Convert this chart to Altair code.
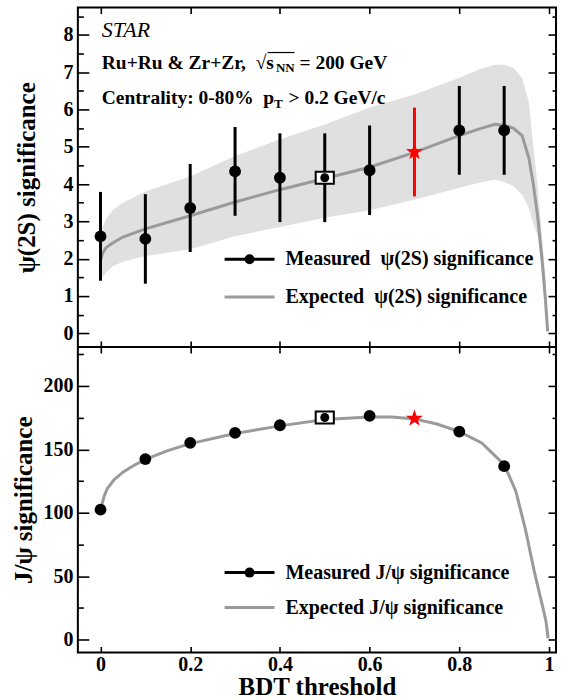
import altair as alt
import pandas as pd

FONT = "Liberation Serif"

# ---------------- data ----------------
bdt = [0.0, 0.1, 0.2, 0.3, 0.4, 0.5, 0.6, 0.7, 0.8, 0.9]
marker = ["circle", "circle", "circle", "circle", "circle", "box", "circle", "star", "circle", "circle"]
psi_meas = [2.60, 2.53, 3.36, 4.34, 4.17, 4.17, 4.37, 4.86, 5.44, 5.44]
psi_err = [1.19, 1.20, 1.18, 1.19, 1.19, 1.19, 1.20, 1.19, 1.19, 1.19]
jpsi_meas = [102.4, 142.3, 155.1, 163.0, 169.0, 175.1, 176.4, 174.3, 164.0, 136.7]

psi_exp_x = [0.001, 0.005, 0.012, 0.027, 0.05, 0.1, 0.2, 0.3, 0.4, 0.5, 0.6, 0.7, 0.8,
             0.85, 0.88, 0.9, 0.92, 0.94, 0.955, 0.965, 0.975, 0.985, 0.992, 0.997]
psi_exp = [1.98, 2.15, 2.29, 2.42, 2.58, 2.80, 3.15, 3.52, 3.85, 4.15, 4.45, 4.85, 5.30,
           5.50, 5.60, 5.58, 5.50, 5.30, 4.70, 4.00, 3.10, 1.90, 0.90, 0.05]
psi_band_hi = [2.60, 2.85, 3.05, 3.30, 3.50, 3.80, 4.20, 4.75, 5.20, 5.60, 6.05, 6.40, 6.85,
               7.10, 7.20, 7.20, 7.12, 6.85, 6.20, 5.00, 3.90, 2.50, 1.50, 0.40]
psi_band_lo = [1.44, 1.52, 1.62, 1.80, 1.92, 2.07, 2.25, 2.60, 2.85, 3.10, 3.30, 3.58, 3.90,
               4.05, 4.12, 4.05, 3.95, 3.72, 3.36, 2.95, 2.60, 1.60, 0.90, 0.20]

jpsi_exp_x = [0.002, 0.008, 0.015, 0.03, 0.05, 0.075, 0.1, 0.15, 0.2, 0.3, 0.4, 0.5, 0.6, 0.65,
              0.7, 0.75, 0.8, 0.85, 0.9, 0.926, 0.948, 0.967, 0.981, 0.993, 0.998]
jpsi_exp = [105, 113, 119, 126, 132, 137.5, 142, 149, 154.5, 162.5, 168.5, 173.5, 175.5, 175.5,
            174, 170, 164, 155, 138, 117, 86, 54, 33, 15, 1]

x_major = [0, 0.2, 0.4, 0.6, 0.8, 1.0]
psi_major = [0, 1, 2, 3, 4, 5, 6, 7, 8]
psi_minor = [0.5, 1.5, 2.5, 3.5, 4.5, 5.5, 6.5, 7.5, 8.5]
jpsi_major = [0, 50, 100, 150, 200]
jpsi_minor = [25, 75, 125, 175, 225]

# ---------------- tables ----------------
psi_df = pd.DataFrame({"x": bdt, "y": psi_meas, "err": psi_err, "marker": marker})
psi_df["lo"] = psi_df["y"] - psi_df["err"]
psi_df["hi"] = psi_df["y"] + psi_df["err"]
jpsi_df = pd.DataFrame({"x": bdt, "y": jpsi_meas, "marker": marker})
psi_exp_df = pd.DataFrame({"x": psi_exp_x, "y": psi_exp, "lo": psi_band_lo, "hi": psi_band_hi})
jpsi_exp_df = pd.DataFrame({"x": jpsi_exp_x, "y": jpsi_exp})
one = pd.DataFrame({"a": [0]})

W = 479
H_TOP = 340
H_BOT = 306
H = H_TOP + H_BOT
XS = alt.Scale(domain=[-0.0505, 1.0156], nice=False, zero=False)
YS_TOP = alt.Scale(domain=[-0.367, 8.73], range=[H_TOP, 0], nice=False, zero=False)
YS_BOT = alt.Scale(domain=[-10.2, 230.7], range=[H, H_TOP], nice=False, zero=False)

BOX = "M-1,-0.667L1,-0.667L1,0.667L-1,0.667Z"
STAR = ("M0,-1L0.235,-0.324L0.951,-0.309L0.38,0.124L0.588,0.809L0,0.4"
        "L-0.588,0.809L-0.38,0.124L-0.951,-0.309L-0.235,-0.324Z")


def X(f):
    return alt.X(f, type="quantitative", scale=XS, axis=None)


def YT(f):
    return alt.Y(f, type="quantitative", scale=YS_TOP, axis=None)


def YB(f):
    return alt.Y(f, type="quantitative", scale=YS_BOT, axis=None)


def tick_axis(values, channel, scale, orient, length, offset=0, width=1.6):
    df = pd.DataFrame({"v": values})
    ax = alt.Axis(orient=orient, offset=offset - length, tickSize=length, values=values,
                  labels=False, domain=False, grid=False, title=None,
                  ticks=True, tickColor="black", tickWidth=width)
    if channel == "y":
        enc = {"y": alt.Y("v:Q", scale=scale, axis=ax)}
    else:
        enc = {"x": alt.X("v:Q", scale=scale, axis=ax)}
    return alt.Chart(df).mark_point(opacity=0).encode(**enc)


def label_y(values, scale, title, title_x, title_y):
    df = pd.DataFrame({"v": values})
    ax = alt.Axis(orient="left", values=values, ticks=False, domain=False, grid=False,
                  format="d", labelFont=FONT, labelFontSize=20, labelFontWeight="bold",
                  labelColor="black", labelPadding=5,
                  title=title, titleFont=FONT, titleFontSize=25, titleFontWeight="bold",
                  titleColor="black", titleAngle=270, titleBaseline="middle",
                  titleAlign="center", titleX=title_x, titleY=title_y)
    return alt.Chart(df).mark_point(opacity=0).encode(y=alt.Y("v:Q", scale=scale, axis=ax))


def label_x(values, title):
    df = pd.DataFrame({"v": values})
    ax = alt.Axis(orient="bottom", values=values, ticks=False, domain=False, grid=False,
                  format="~g", labelFont=FONT, labelFontSize=20, labelFontWeight="bold",
                  labelColor="black", labelPadding=2,
                  title=title, titleFont=FONT, titleFontSize=25, titleFontWeight="bold",
                  titleColor="black", titleBaseline="middle", titleY=34)
    return alt.Chart(df).mark_point(opacity=0).encode(x=alt.X("v:Q", scale=XS, axis=ax))


def txt(text, x, y, size=19.5, weight="bold", style="normal", color="black"):
    return alt.Chart(one).mark_text(text=text, align="left", baseline="middle", font=FONT,
                                    fontSize=size, fontWeight=weight, fontStyle=style,
                                    color=color).encode(x=alt.value(x), y=alt.value(y))


def legend_rows(y1, y2, label1, label2):
    return [
        alt.Chart(one).mark_rule(color="black", strokeWidth=3).encode(
            x=alt.value(147), x2=alt.value(197), y=alt.value(y1)),
        alt.Chart(one).mark_circle(color="black", size=100, opacity=1).encode(
            x=alt.value(172), y=alt.value(y1)),
        txt(label1, 208, y1, size=20),
        alt.Chart(one).mark_rule(color="#9a9a9a", strokeWidth=3).encode(
            x=alt.value(147), x2=alt.value(197), y=alt.value(y2)),
        txt(label2, 208, y2, size=20),
    ]


def data_marks(df, Y, with_err):
    layers = []
    if with_err:
        layers.append(alt.Chart(df).transform_filter("datum.marker != 'star'").mark_rule(
            color="black", strokeWidth=3).encode(x=X("x"), y=Y("lo"), y2="hi"))
        layers.append(alt.Chart(df).transform_filter("datum.marker == 'star'").mark_rule(
            color="#ff0000", strokeWidth=3).encode(x=X("x"), y=Y("lo"), y2="hi"))
    layers += [
        alt.Chart(df).transform_filter("datum.marker == 'circle'").mark_circle(
            color="black", size=140, opacity=1).encode(x=X("x"), y=Y("y")),
        alt.Chart(df).transform_filter("datum.marker == 'box'").mark_point(
            shape=BOX, size=330, filled=True, fill="white", stroke="black",
            strokeWidth=2, opacity=1).encode(x=X("x"), y=Y("y")),
        alt.Chart(df).transform_filter("datum.marker == 'box'").mark_circle(
            color="black", size=80, opacity=1).encode(x=X("x"), y=Y("y")),
        alt.Chart(df).transform_filter("datum.marker == 'star'").mark_point(
            shape=STAR, filled=True, color="#ff0000", size=320, opacity=1).encode(
            x=X("x"), y=Y("y")),
    ]
    return layers


# ---------------- top panel ----------------
layers = [
    alt.Chart(psi_exp_df).mark_area(color="#e0e0e0", opacity=1).encode(
        x=X("x"), y=YT("lo"), y2="hi"),
    alt.Chart(psi_exp_df).mark_line(color="#9a9a9a", strokeWidth=3).encode(
        x=X("x"), y=YT("y")),
]
layers += data_marks(psi_df, YT, True)
layers += [
    txt("STAR", 24, 22, size=22, weight="normal", style="italic"),
    txt("Ru+Ru & Zr+Zr,\u00a0\u00a0\u221As", 24, 56),
    txt("NN", 198.5, 61, size=13),
    txt("= 200 GeV", 222, 56),
    alt.Chart(one).mark_rule(color="black", strokeWidth=1.2).encode(
        x=alt.value(190), x2=alt.value(217), y=alt.value(45)),
    txt("Centrality: 0-80%\u00a0\u00a0p", 24, 91),
    txt("T", 196.5, 97, size=13),
    txt("> 0.2 GeV/c", 211, 91),
]
layers += legend_rows(252, 290, "Measured\u00a0\u00a0\u03c8(2S) significance",
                      "Expected\u00a0\u00a0\u03c8(2S) significance")
layers += [
    label_y(psi_major, YS_TOP, "\u03c8(2S) significance", -51, H_TOP / 2),
    tick_axis(psi_major, "y", YS_TOP, "left", 11),
    tick_axis(psi_minor, "y", YS_TOP, "left", 5.5),
    tick_axis(psi_major, "y", YS_TOP, "right", 8),
    tick_axis(psi_minor, "y", YS_TOP, "right", 4),
    tick_axis(x_major, "x", XS, "bottom", 6, offset=-H_BOT),
    tick_axis(x_major, "x", XS, "top", 6),
]

# ---------------- bottom panel ----------------
layers += [
    alt.Chart(one).mark_rule(color="black", strokeWidth=2).encode(
        x=alt.value(0), x2=alt.value(W), y=alt.value(H_TOP)),
    alt.Chart(jpsi_exp_df).mark_line(color="#9a9a9a", strokeWidth=3).encode(
        x=X("x"), y=YB("y")),
]
layers += data_marks(jpsi_df, YB, False)
layers += legend_rows(H_TOP + 226, H_TOP + 261, "Measured J/\u03c8 significance",
                      "Expected J/\u03c8 significance")
layers += [
    label_y(jpsi_major, YS_BOT, "J/\u03c8 significance", -54, H_TOP + H_BOT / 2),
    tick_axis(jpsi_major, "y", YS_BOT, "left", 11),
    tick_axis(jpsi_minor, "y", YS_BOT, "left", 5.5),
    tick_axis(jpsi_major, "y", YS_BOT, "right", 8),
    tick_axis(jpsi_minor, "y", YS_BOT, "right", 4),
    label_x(x_major, "BDT threshold"),
    tick_axis(x_major, "x", XS, "bottom", 6),
    tick_axis(x_major, "x", XS, "top", 6, offset=-H_TOP),
]

chart = alt.layer(*layers).properties(
    width=W, height=H,
    padding={"left": 12, "top": 6, "right": 5, "bottom": 0},
    background="white",
).resolve_scale(y="independent").resolve_axis(
    x="independent", y="independent"
).configure_view(stroke="black", strokeWidth=2)

chart.save("out.html", embed_options={"renderer": "svg", "actions": False})
